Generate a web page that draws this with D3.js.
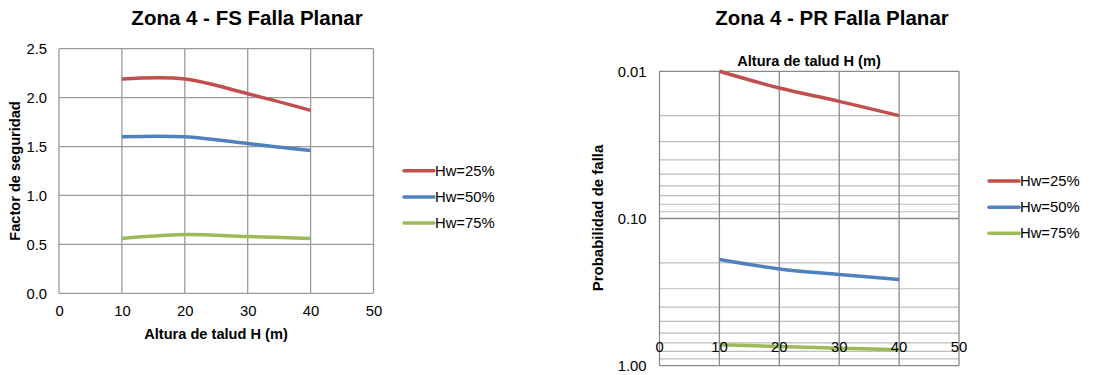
<!DOCTYPE html>
<html>
<head>
<meta charset="utf-8">
<script src="https://cdn.jsdelivr.net/npm/d3@7"></script>
<style>
  body { margin: 0; background: #fff; }
  svg { display: block; font-family: "Liberation Sans", Arial, sans-serif; }
</style>
</head>
<body>
<svg id="chart" width="1118" height="375"></svg>
<script>
// Slope heights (m)
const heights = [10, 20, 30, 40];
const seriesNames = ["Hw=25%", "Hw=50%", "Hw=75%"];
const seriesColors = ["#C0504D", "#4F81BD", "#9BBB59"];

// Factor of safety per water level
const fs25 = [2.19, 2.19, 2.04, 1.87];
const fs50 = [1.60, 1.60, 1.53, 1.46];
const fs75 = [0.56, 0.60, 0.58, 0.56];

// Probability of failure per water level
const pr25 = [0.010, 0.013, 0.016, 0.020];
const pr50 = [0.19, 0.22, 0.24, 0.26];
const pr75 = [0.72, 0.74, 0.76, 0.78];

const xTicks = [0, 10, 20, 30, 40, 50];
const fsTicks = [0, 0.5, 1.0, 1.5, 2.0, 2.5];
const prTicks = [0.01, 0.1, 1];

const svg = d3.select("#chart");
const curve = d3.curveCardinal.tension(0);
const tickFont = 14.8;
const titleFont = 20.5;
const axisTitleFont = 14.6;

function legend(g, x, ys) {
  seriesNames.forEach((name, i) => {
    g.append("line")
      .attr("x1", x).attr("x2", x + 30)
      .attr("y1", ys[i]).attr("y2", ys[i])
      .attr("stroke", seriesColors[i]).attr("stroke-width", 3.5)
      .attr("stroke-linecap", "round");
    g.append("text")
      .attr("x", x + 31).attr("y", ys[i]).attr("dy", "0.35em")
      .attr("font-size", tickFont).attr("fill", "#000").text(name);
  });
}

/* ---------- Left: factor of safety ---------- */
{
  const g = svg.append("g");
  const x = d3.scaleLinear().domain([0, 50]).range([59, 373.5]);
  const y = d3.scaleLinear().domain([0, 2.5]).range([293.3, 48.7]);

  g.append("text").attr("x", 247).attr("y", 25)
    .attr("text-anchor", "middle").attr("font-weight", "bold").attr("font-size", titleFont)
    .text("Zona 4 - FS Falla Planar");

  // grid
  g.selectAll(".hg").data(fsTicks).join("line")
    .attr("x1", x(0)).attr("x2", x(50))
    .attr("y1", d => y(d)).attr("y2", d => y(d))
    .attr("stroke", "#9a9a9a").attr("stroke-width", 1.3);
  g.selectAll(".vg").data(xTicks).join("line")
    .attr("x1", d => x(d)).attr("x2", d => x(d))
    .attr("y1", y(0)).attr("y2", y(2.5))
    .attr("stroke", "#9a9a9a").attr("stroke-width", 1.3);

  // axes
  const ya = g.append("g").attr("transform", `translate(${x(0)},0)`)
    .call(d3.axisLeft(y).tickValues(fsTicks).tickFormat(d3.format(".1f")).tickSize(0).tickPadding(12));
  ya.select(".domain").remove();
  ya.selectAll("text").attr("font-size", tickFont).attr("fill", "#000").attr("font-family", "Liberation Sans, Arial, sans-serif");

  const xa = g.append("g").attr("transform", `translate(0,${y(0)})`)
    .call(d3.axisBottom(x).tickValues(xTicks).tickFormat(d3.format("d")).tickSize(0).tickPadding(12));
  xa.select(".domain").remove();
  xa.selectAll("text").attr("font-size", tickFont).attr("fill", "#000").attr("font-family", "Liberation Sans, Arial, sans-serif");

  g.append("text").attr("x", 216).attr("y", 334).attr("dy", "0.35em")
    .attr("text-anchor", "middle").attr("font-weight", "bold").attr("font-size", axisTitleFont)
    .text("Altura de talud H (m)");
  g.append("text").attr("transform", "translate(15,171) rotate(-90)").attr("dy", "0.35em")
    .attr("text-anchor", "middle").attr("font-weight", "bold").attr("font-size", axisTitleFont)
    .text("Factor de seguridad");

  const line = d3.line().x((d, i) => x(heights[i])).y(d => y(d)).curve(curve);
  [fs25, fs50, fs75].forEach((s, i) => {
    g.append("path").attr("d", line(s)).attr("fill", "none")
      .attr("stroke", seriesColors[i]).attr("stroke-width", 3.5);
  });

  legend(g, 404, [170.7, 197, 223]);
}

/* ---------- Right: probability of failure ---------- */
{
  const g = svg.append("g");
  const x = d3.scaleLinear().domain([0, 50]).range([659.5, 959]);
  const y = d3.scaleLog().domain([0.01, 1]).range([71.3, 365.7]);

  g.append("text").attr("x", 832).attr("y", 25)
    .attr("text-anchor", "middle").attr("font-weight", "bold").attr("font-size", titleFont)
    .text("Zona 4 - PR Falla Planar");

  // minor grid (2..9 in each decade)
  const minor = [];
  [0.01, 0.1].forEach(base => { for (let k = 2; k <= 9; k++) minor.push(base * k); });
  g.selectAll(".mg").data(minor).join("line")
    .attr("x1", x(0)).attr("x2", x(50))
    .attr("y1", d => y(d)).attr("y2", d => y(d))
    .attr("stroke", "#bdbdbd").attr("stroke-width", 1.2);
  g.selectAll(".hg").data(prTicks).join("line")
    .attr("x1", x(0)).attr("x2", x(50))
    .attr("y1", d => y(d)).attr("y2", d => y(d))
    .attr("stroke", "#8a8a8a").attr("stroke-width", 1.3);
  g.selectAll(".vg").data(xTicks).join("line")
    .attr("x1", d => x(d)).attr("x2", d => x(d))
    .attr("y1", y(0.01)).attr("y2", y(1))
    .attr("stroke", "#8a8a8a").attr("stroke-width", 1.3);

  const ya = g.append("g").attr("transform", `translate(${x(0)},0)`)
    .call(d3.axisLeft(y).tickValues(prTicks).tickFormat(d3.format(".2f")).tickSize(0).tickPadding(13));
  ya.select(".domain").remove();
  ya.selectAll("text").attr("font-size", tickFont).attr("fill", "#000").attr("font-family", "Liberation Sans, Arial, sans-serif");

  const line = d3.line().x((d, i) => x(heights[i])).y(d => y(d)).curve(curve);
  [pr25, pr50, pr75].forEach((s, i) => {
    g.append("path").attr("d", line(s)).attr("fill", "none")
      .attr("stroke", seriesColors[i]).attr("stroke-width", 3.5);
  });

  // horizontal axis labels sit low inside the plot, title on top
  g.append("g").selectAll("text").data(xTicks).join("text")
    .attr("x", d => x(d)).attr("y", 347).attr("dy", "0.35em")
    .attr("text-anchor", "middle").attr("font-size", tickFont).attr("fill", "#000")
    .text(d => d3.format("d")(d));

  g.append("text").attr("x", 809).attr("y", 61).attr("dy", "0.35em")
    .attr("text-anchor", "middle").attr("font-weight", "bold").attr("font-size", axisTitleFont)
    .text("Altura de talud H (m)");
  g.append("text").attr("transform", "translate(598,218) rotate(-90)").attr("dy", "0.35em")
    .attr("text-anchor", "middle").attr("font-weight", "bold").attr("font-size", axisTitleFont + 0.4)
    .text("Probabilidad de falla");

  legend(g, 989, [181, 207.3, 233.3]);
}
</script>
</body>
</html>
